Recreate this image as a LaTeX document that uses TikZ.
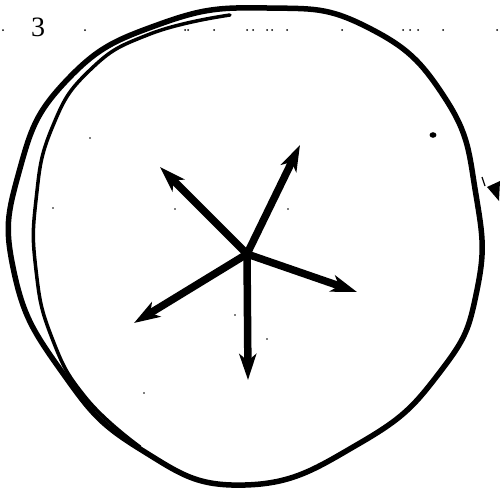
\documentclass[tikz,border=0pt]{standalone}
\usepackage{fontspec}
\setmainfont{Liberation Serif}
\usetikzlibrary{arrows.meta}
\begin{document}
\begin{tikzpicture}[x=1pt,y=-1pt,
  ring/.style={draw=black,line width=5.5pt,line join=round,line cap=round},
  ringinner/.style={draw=black,line width=3.5pt,line join=round,line cap=round},
  arr/.style={draw=black,line width=7.5pt,line cap=round,-{Stealth[length=26pt,width=17pt,inset=7pt]}},
  speck/.style={fill=black,draw=none}]
\useasboundingbox (0,0) rectangle (500,490);
% label
\node[font=\fontsize{28}{28}\selectfont,inner sep=0pt] (lab) at (38,27) {3};
% outer hand-drawn circle
\draw[ring] plot[smooth cycle,tension=0.8] coordinates {
 (267,8) (367,27) (445,98) (476,195) (477,290) (440,372) (360,443)
 (245,485) (140,449) (62,372) (14,272) (19,172) (67,80) (160,24)};
% inner second stroke on the left
\draw[ringinner] plot[smooth,tension=0.8] coordinates {
 (230,15) (150,34) (90,70) (52,128) (36,200) (36,270)
 (52,338) (86,398) (140,447)};
% star of arrows
\coordinate (c) at (247,254);
\coordinate (t1) at (160,167);
\coordinate (t2) at (300,145);
\coordinate (t3) at (357,292);
\coordinate (t4) at (248,380);
\coordinate (t5) at (134,323);
\draw[arr] (c) -- (t1);
\draw[arr] (c) -- (t2);
\draw[arr] (c) -- (t3);
\draw[arr] (c) -- (t4);
\draw[arr] (c) -- (t5);
% dot and mark on the right
\fill (433,135) ellipse (3.4pt and 2.8pt);
\fill (487,187) -- (500,181) -- (499,201) -- cycle;
\draw[line width=1.2pt] (482,177) -- (485,186);
% dotted guide specks
\foreach \x in {3,85,185,188,214,247,253,267,272,287,342,403,410,418,443,497}
  \fill[speck] (\x,30) circle (1pt);
\foreach \x/\y in {53/208,175/209,288/209,90/138,235/315,267/339,144/393}
  \fill[speck] (\x,\y) circle (0.9pt);
\end{tikzpicture}
\end{document}
